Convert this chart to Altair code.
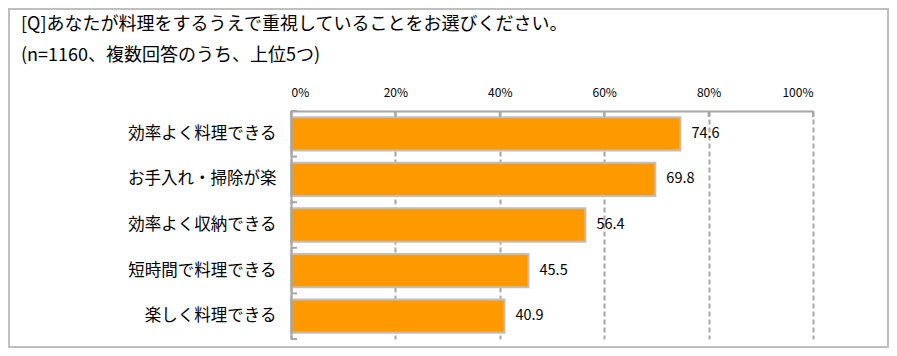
import altair as alt
import pandas as pd

categories = ["効率よく料理できる", "お手入れ・掃除が楽", "効率よく収納できる", "短時間で料理できる", "楽しく料理できる"]
values = [74.6, 69.8, 56.4, 45.5, 40.9]
tick_values = [0, 20, 40, 60, 80, 100]
title_lines = ["[Q]あなたが料理をするうえで重視していることをお選びください。",
               "(n=1160、複数回答のうち、上位5つ)"]

FONT = "Noto Sans CJK JP"
GRAY = "#A6A6A6"

df = pd.DataFrame({"category": categories, "value": values})
tick_df = pd.DataFrame({"t": tick_values})

x_scale = alt.Scale(domain=[0, 100], nice=False, zero=True)
y_scale = alt.Scale(domain=categories, paddingInner=0, paddingOuter=0)

x_axis = alt.Axis(orient="top", values=tick_values, labelExpr="datum.value + '%'",
                  title=None, ticks=False, labelPadding=12, labelFontSize=12,
                  labelFont=FONT, labelColor="#000000",
                  domain=True, domainColor=GRAY, domainWidth=2,
                  grid=True, gridColor=GRAY, gridWidth=2, gridDash=[5, 3])
y_axis = alt.Axis(orient="left", title=None, ticks=False, labelPadding=15,
                  labelFontSize=16.5, labelFont=FONT, labelColor="#000000",
                  domain=True, domainColor=GRAY, domainWidth=2, grid=False, zindex=1)

base = alt.Chart(df)

bars = base.mark_bar(color="#FF9900", stroke="#BFBFBF", strokeWidth=2,
                     height=alt.RelativeBandSize(0.73)).encode(
    x=alt.X("value:Q", scale=x_scale, axis=x_axis),
    y=alt.Y("category:N", sort=categories, scale=y_scale, axis=y_axis),
)

labels = base.mark_text(align="left", baseline="middle", dx=11, fontSize=14.5,
                        font=FONT, color="#000000").encode(
    x=alt.X("value:Q"),
    y=alt.Y("category:N", sort=categories),
    text=alt.Text("value:Q", format=".1f"),
)

xticks = alt.Chart(tick_df).mark_rule(color=GRAY, strokeWidth=2).encode(
    x=alt.X("t:Q"), y=alt.value(0), y2=alt.value(6)
)

yticks = base.mark_rule(color=GRAY, strokeWidth=2).encode(
    y=alt.Y("category:N", sort=categories, bandPosition=0),
    x=alt.value(0), x2=alt.value(6),
)
yticks_last = base.transform_filter(alt.datum.category == categories[-1]).mark_rule(
    color=GRAY, strokeWidth=2).encode(
    y=alt.Y("category:N", sort=categories, bandPosition=1),
    x=alt.value(0), x2=alt.value(6),
)

title1 = alt.Chart(pd.DataFrame({"line": [title_lines[0]]})).mark_text(
    align="left", baseline="middle", fontSize=18, font=FONT, color="#000000").encode(
    text="line:N", x=alt.value(-270), y=alt.value(-86))
title2 = alt.Chart(pd.DataFrame({"line": [title_lines[1]]})).mark_text(
    align="left", baseline="middle", fontSize=18, font=FONT, color="#000000").encode(
    text="line:N", x=alt.value(-270), y=alt.value(-55))

frame = alt.Chart(pd.DataFrame({"a": [0]})).mark_rect(
    fill="transparent", stroke="#BFBFBF", strokeWidth=2).encode(
    x=alt.value(-282), x2=alt.value(597), y=alt.value(-102), y2=alt.value(236))

chart = alt.layer(bars, labels, xticks, yticks, yticks_last, title1, title2, frame).properties(
    width=522, height=228,
    padding={"left": 283, "top": 103, "right": 76, "bottom": 9},
    autosize=alt.AutoSizeParams(type="none"),
    background="#FFFFFF",
).configure_view(stroke="transparent")

chart.save("out.html", embed_options={"renderer": "svg", "actions": False})
